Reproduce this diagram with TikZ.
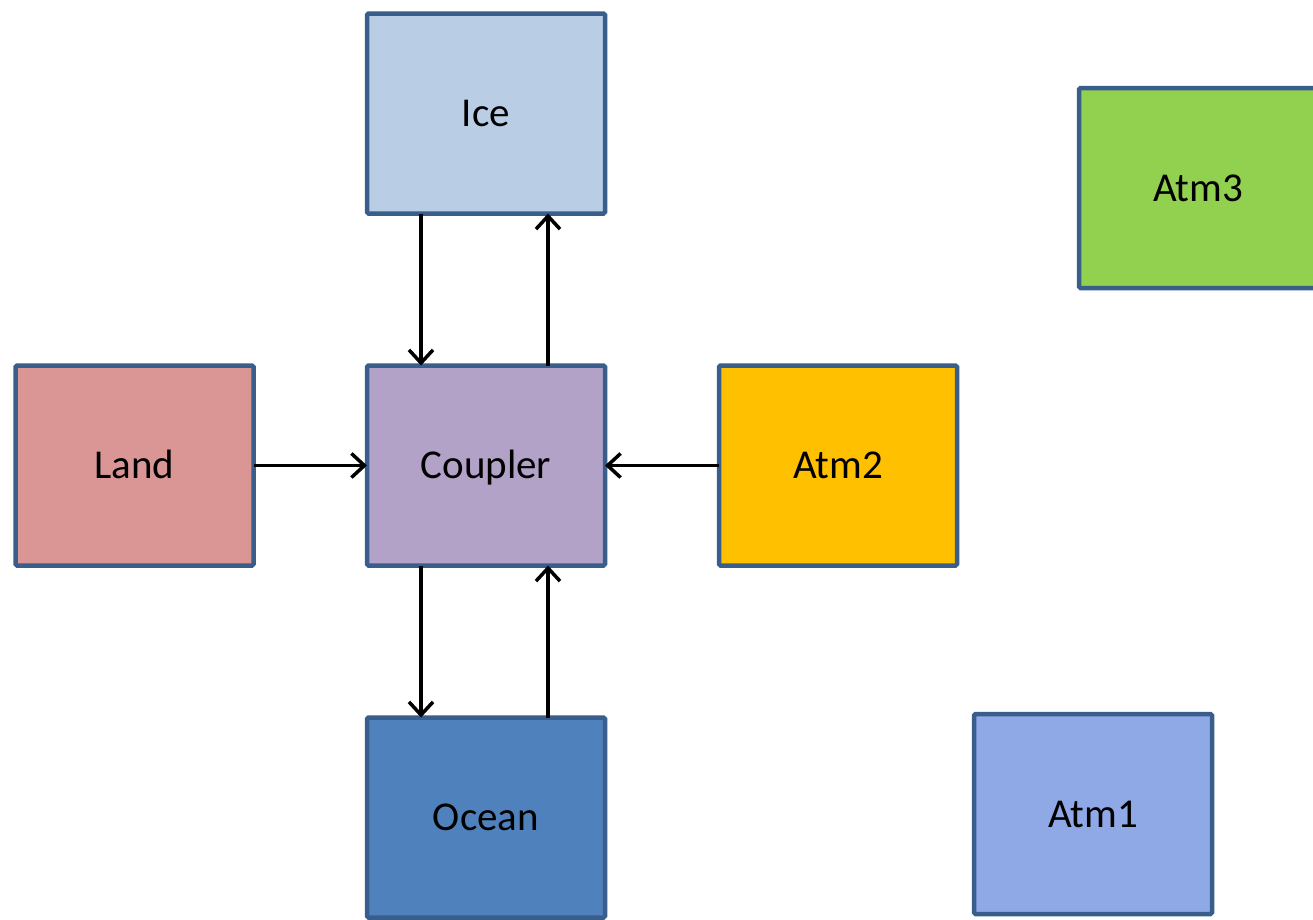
\documentclass[tikz,border=0pt]{standalone}
\usepackage{fontspec}
\setmainfont{Carlito}
\usetikzlibrary{arrows.meta}
\definecolor{bordc}{RGB}{58,94,140}
\definecolor{icec}{RGB}{185,205,229}
\definecolor{atmthree}{RGB}{146,208,80}
\definecolor{landc}{RGB}{217,150,148}
\definecolor{coupc}{RGB}{179,162,199}
\definecolor{atmtwo}{RGB}{255,192,0}
\definecolor{oceanc}{RGB}{79,129,189}
\definecolor{atmone}{RGB}{142,169,230}
\tikzset{
  box/.style={draw=bordc, line width=4.5pt, rounded corners=1.5pt, minimum width=238pt, minimum height=200pt, inner sep=0pt, outer sep=0pt, text height=26pt, text depth=0pt, font=\fontsize{41}{48}\selectfont},
  arr/.style={draw=black, line width=3.5pt, -{Straight Barb[length=13pt, width=24pt, line width=3.5pt]}}
}
\begin{document}
\begin{tikzpicture}[x=1pt,y=-1pt]
\useasboundingbox (0,0) rectangle (1313,919);
\node[box, fill=icec] (ice) at (486,113.5) {Ice};
\node[box, fill=atmthree] (atm3) at (1198,188) {Atm3};
\node[box, fill=landc] (land) at (134.5,465.5) {Land};
\node[box, fill=coupc] (coup) at (486,465.5) {Coupler};
\node[box, fill=atmtwo] (atm2) at (838,465.5) {Atm2};
\node[box, fill=oceanc] (ocean) at (486,817.5) {Ocean};
\node[box, fill=atmone] (atm1) at (1093,814) {Atm1};
\draw[arr] ([xshift=-65pt]ice.south) -- ([xshift=-65pt]coup.north);
\draw[arr] ([xshift=62pt]coup.north) -- ([xshift=62pt]ice.south);
\draw[arr] (land.east) -- (coup.west);
\draw[arr] (atm2.west) -- (coup.east);
\draw[arr] ([xshift=-65pt]coup.south) -- ([xshift=-65pt]ocean.north);
\draw[arr] ([xshift=62pt]ocean.north) -- ([xshift=62pt]coup.south);
\end{tikzpicture}
\end{document}
